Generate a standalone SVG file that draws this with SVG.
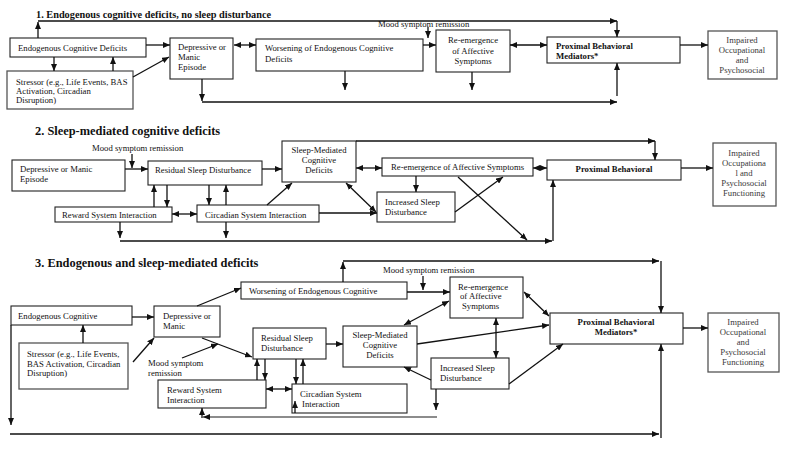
<svg xmlns="http://www.w3.org/2000/svg" width="788" height="449" viewBox="0 0 788 449">
<defs>
<marker id="a" markerUnits="userSpaceOnUse" markerWidth="8" markerHeight="6" refX="7" refY="3" orient="auto-start-reverse"><path d="M0,0 L7,3 L0,6 z" fill="#111"/></marker>
<style>
.b{fill:#fff;stroke:#222;stroke-width:1.1}
.g{fill:#fff;stroke:#555;stroke-width:1.3}
text{font-family:"Liberation Serif","Times New Roman",serif;font-size:8.7px;fill:#111}
.t{font-weight:bold;font-size:12.4px}
.t1{font-weight:bold;font-size:10.3px}
.bd{font-weight:bold}
.c{text-anchor:middle}
text.gr{fill:#3a3a3a}
#conn line{stroke:#111;stroke-width:1.3;fill:none}
#conn line.grey{stroke:#666}
.e{marker-end:url(#a)}
.d{marker-start:url(#a);marker-end:url(#a)}
</style>
</defs>
<rect width="788" height="449" fill="#fff"/>
<text class="t1" x="36" y="18">1. Endogenous cognitive deficits, no sleep disturbance</text>
<text class="t" x="35" y="135">2. Sleep-mediated cognitive deficits</text>
<text class="t" x="35" y="267">3. Endogenous and sleep-mediated deficits</text>
<!-- section 1 nodes -->
<g id="s1-endo"><rect class="b" x="10" y="38" width="136" height="19"/><text x="18" y="50.5">Endogenous Cognitive Deficits</text></g>
<g id="s1-stressor"><rect class="g" x="7" y="71" width="126" height="38"/><text x="16" y="84.5">Stressor (e.g., Life Events, BAS</text><text x="16" y="93.5">Activation, Circadian</text><text x="16" y="103">Disruption)</text></g>
<g id="s1-depr"><rect class="b" x="170" y="38" width="63" height="41"/><text x="178" y="49.5">Depressive or</text><text x="178" y="59.5">Manic</text><text x="178" y="69.5">Episode</text></g>
<g id="s1-worse"><rect class="b" x="256" y="39" width="167" height="32"/><text x="265" y="51">Worsening of Endogenous Cognitive</text><text x="265" y="61.5">Deficits</text></g>
<g id="s1-reem"><rect class="b" x="436" y="30" width="74" height="42"/><text class="c" x="473" y="43">Re-emergence</text><text class="c" x="473" y="53.5">of Affective</text><text class="c" x="473" y="63.5">Symptoms</text></g>
<g id="s1-prox"><rect class="b" x="547" y="37" width="133" height="26"/><text class="bd" x="556" y="49">Proximal Behavioral</text><text class="bd" x="556" y="59">Mediators*</text></g>
<g id="s1-imp"><rect class="g" x="708" y="31" width="69" height="48"/><text class="c gr" x="742" y="43">Impaired</text><text class="c gr" x="742" y="53">Occupational</text><text class="c gr" x="742" y="63">and</text><text class="c gr" x="742" y="72.5">Psychosocial</text></g>
<text x="378" y="26.5">Mood symptom remission</text>
<!-- section 2 nodes -->
<text x="92" y="151">Mood symptom remission</text>
<g id="s2-depr"><rect class="b" x="12" y="160" width="113" height="31"/><text x="20" y="172">Depressive or Manic</text><text x="20" y="182">Episode</text></g>
<g id="s2-resid"><rect class="b" x="148" y="161" width="114" height="24"/><text x="155" y="173">Residual Sleep Disturbance</text></g>
<g id="s2-reward"><rect class="b" x="55" y="207" width="117" height="15"/><text x="62" y="218">Reward System Interaction</text></g>
<g id="s2-circ"><rect class="b" x="197" y="205" width="122" height="17"/><text x="205" y="218">Circadian System Interaction</text></g>
<g id="s2-smcd"><rect class="b" x="282" y="141" width="74" height="41"/><text class="c" x="319" y="153">Sleep-Mediated</text><text class="c" x="319" y="163">Cognitive</text><text class="c" x="319" y="173">Deficits</text></g>
<g id="s2-reem"><rect class="b" x="382" y="158" width="151" height="18"/><text x="391" y="170">Re-emergence of Affective Symptoms</text></g>
<g id="s2-incr"><rect class="b" x="377" y="192" width="78" height="30"/><text x="385" y="204.5">Increased Sleep</text><text x="385" y="214.5">Disturbance</text></g>
<g id="s2-prox"><rect class="b" x="547" y="160" width="134" height="20"/><text class="c bd" x="614" y="172">Proximal Behavioral</text></g>
<g id="s2-imp"><rect class="g" x="713" y="143" width="63" height="63"/><text class="c gr" x="744" y="156">Impaired</text><text class="c gr" x="744" y="166">Occupationa</text><text class="c gr" x="744" y="176">l and</text><text class="c gr" x="744" y="186">Psychosocial</text><text class="c gr" x="744" y="196">Functioning</text></g>
<!-- section 3 nodes -->
<g id="s3-endo"><rect class="b" x="11" y="306" width="121" height="19"/><text x="18" y="318.5">Endogenous Cognitive</text></g>
<g id="s3-stressor"><rect class="g" x="19" y="343" width="109" height="46"/><text x="27" y="357">Stressor (e.g., Life Events,</text><text x="27" y="366.5">BAS Activation, Circadian</text><text x="27" y="376">Disruption)</text></g>
<g id="s3-depr"><rect class="b" x="154" y="306" width="66" height="31"/><text x="163" y="318.5">Depressive or</text><text x="163" y="328.5">Manic</text></g>
<g id="s3-worse"><rect class="b" x="241" y="282" width="166" height="17"/><text x="249" y="294">Worsening of Endogenous Cognitive</text></g>
<text x="383" y="273">Mood symptom remission</text>
<g id="s3-reem"><rect class="b" x="450" y="277" width="73" height="41"/><text x="458" y="289.5">Re-emergence</text><text x="460" y="298.5">of Affective</text><text x="462" y="308.5">Symptoms</text></g>
<g id="s3-resid"><rect class="b" x="253" y="328" width="73" height="31"/><text x="261" y="340.5">Residual Sleep</text><text x="261" y="350.5">Disturbance</text></g>
<g id="s3-smcd"><rect class="b" x="343" y="326" width="74" height="41"/><text class="c" x="380" y="338">Sleep-Mediated</text><text class="c" x="380" y="348">Cognitive</text><text class="c" x="380" y="358">Deficits</text></g>
<g id="s3-incr"><rect class="b" x="431" y="358" width="78" height="31"/><text x="440" y="371">Increased Sleep</text><text x="440" y="381">Disturbance</text></g>
<text x="148" y="366">Mood symptom</text><text x="148" y="376">remission</text>
<g id="s3-reward"><rect class="b" x="158" y="380" width="108" height="28"/><text x="167" y="393">Reward System</text><text x="167" y="403">Interaction</text></g>
<g id="s3-circ"><rect class="b" x="292" y="384" width="115" height="29"/><text x="300" y="397">Circadian System</text><text x="302" y="407">Interaction</text></g>
<g id="s3-prox"><rect class="b" x="550" y="313" width="133" height="31"/><text class="c bd" x="616" y="325">Proximal Behavioral</text><text class="c bd" x="616" y="335">Mediators*</text></g>
<g id="s3-imp"><rect class="g" x="708" y="313" width="71" height="59"/><text class="c gr" x="743" y="325">Impaired</text><text class="c gr" x="743" y="335">Occupational</text><text class="c gr" x="743" y="345">and</text><text class="c gr" x="743" y="355">Psychosocial</text><text class="c gr" x="743" y="365">Functioning</text></g>
<g id="conn">
<!-- section 1 -->
<line x1="38" y1="21" x2="617" y2="21" class="e"/>
<line x1="38" y1="38" x2="38" y2="22" class="e"/>
<line x1="617" y1="21" x2="617" y2="37" class="e"/>
<line x1="146" y1="45" x2="170" y2="45" class="e"/>
<line x1="54" y1="57" x2="54" y2="71" class="e"/>
<line x1="113" y1="71" x2="113" y2="57" class="e"/>
<line x1="133" y1="77" x2="169" y2="57" class="e"/>
<line x1="234" y1="45" x2="256" y2="45" class="d"/>
<line x1="423" y1="45" x2="436" y2="45" class="e"/>
<line x1="428" y1="27" x2="428" y2="38" class="e"/>
<line x1="345" y1="71" x2="345" y2="90" class="e"/>
<line x1="472" y1="72" x2="472" y2="90" class="e"/>
<line x1="510" y1="45" x2="547" y2="45" class="d"/>
<line x1="202" y1="79" x2="202" y2="101" class="e"/>
<line x1="202" y1="102" x2="617" y2="102" class="e"/>
<line x1="617" y1="96" x2="617" y2="63" class="e"/>
<line x1="680" y1="45" x2="708" y2="45" class="e"/>
<!-- section 2 -->
<line x1="132" y1="154" x2="132" y2="168" class="e"/>
<line x1="125" y1="169" x2="148" y2="169" class="e"/>
<line x1="262" y1="169" x2="282" y2="169" class="e"/>
<line x1="154" y1="207" x2="154" y2="185" class="e"/>
<line x1="167" y1="185" x2="167" y2="207" class="e"/>
<line x1="209" y1="185" x2="209" y2="205" class="e"/>
<line x1="226" y1="205" x2="226" y2="185" class="e"/>
<line x1="172" y1="214" x2="197" y2="214" class="d"/>
<line x1="267" y1="205" x2="292" y2="183" class="e"/>
<line x1="319" y1="213" x2="377" y2="213" class="e"/>
<line x1="120" y1="222" x2="120" y2="238" class="e"/>
<line x1="226" y1="222" x2="226" y2="238" class="e"/>
<line x1="120" y1="241" x2="552" y2="241" class="e"/>
<line x1="553" y1="241" x2="553" y2="180" class="e"/>
<line x1="356" y1="141" x2="655" y2="141" class="e"/>
<line x1="655" y1="141" x2="655" y2="160" class="e"/>
<line x1="356" y1="168" x2="382" y2="168" class="d"/>
<line x1="533" y1="168" x2="547" y2="168" class="d"/>
<line x1="416" y1="176" x2="416" y2="192" class="e"/>
<line x1="346" y1="183" x2="376" y2="212" class="d"/>
<line x1="455" y1="212" x2="503" y2="177" class="e"/>
<line x1="458" y1="177" x2="527" y2="240" class="e"/>
<line x1="681" y1="168" x2="713" y2="168" class="e"/>
<!-- section 3 -->
<line x1="132" y1="317" x2="154" y2="317" class="e"/>
<line x1="83" y1="343" x2="83" y2="325" class="e"/>
<line x1="133" y1="362" x2="154" y2="338" class="e"/>
<line x1="11" y1="325" x2="11" y2="425" class="e"/>
<line x1="10" y1="434" x2="659" y2="434" class="e"/>
<line x1="661" y1="438" x2="661" y2="344" class="e"/>
<line x1="197" y1="306" x2="241" y2="288" class="e"/>
<line x1="343" y1="282" x2="343" y2="262" class="e"/>
<line x1="343" y1="261" x2="659" y2="261" class="e"/>
<line x1="661" y1="261" x2="661" y2="313" class="e"/>
<line x1="423" y1="276" x2="423" y2="290" class="e"/>
<line x1="407" y1="292" x2="450" y2="292" class="e"/>
<line x1="524" y1="292" x2="549" y2="316" class="d"/>
<line x1="449" y1="301" x2="404" y2="325" class="d"/>
<line x1="496" y1="318" x2="496" y2="358" class="d"/>
<line x1="417" y1="344" x2="549" y2="325" class="e"/>
<line x1="326" y1="344" x2="343" y2="344" class="e"/>
<line x1="202" y1="338" x2="252" y2="357" class="e"/>
<line x1="182" y1="358" x2="218" y2="344" class="e"/>
<line x1="257" y1="380" x2="257" y2="359" class="e"/>
<line x1="265" y1="359" x2="265" y2="380" class="e"/>
<line x1="296" y1="359" x2="296" y2="384" class="e"/>
<line x1="303" y1="384" x2="303" y2="359" class="e"/>
<line x1="266" y1="389" x2="292" y2="389" class="d"/>
<line x1="295" y1="413" x2="295" y2="401" class="e"/>
<line x1="436" y1="389" x2="436" y2="410" class="e"/>
<line x1="437" y1="417" x2="203" y2="417" class="e grey"/>
<line x1="202" y1="418" x2="202" y2="408" class="e"/>
<line x1="431" y1="380" x2="404" y2="367" class="e"/>
<line x1="509" y1="384" x2="563" y2="344" class="e"/>
<line x1="683" y1="328" x2="708" y2="328" class="e"/>
</g>
</svg>
